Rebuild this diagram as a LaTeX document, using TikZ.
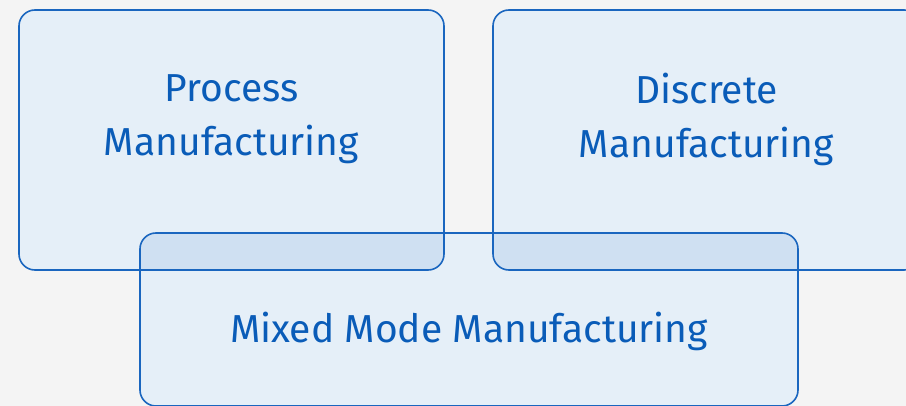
\documentclass[tikz,border=0pt]{standalone}
\usepackage{fontspec}
\setmainfont{Fira Sans}
\usepackage{xcolor}
\usepackage{tikz}
\usetikzlibrary{positioning}

\definecolor{pagebg}{HTML}{F4F4F4}
\definecolor{panelfill}{HTML}{E5EFF8}
\definecolor{panelmix}{HTML}{CFE0F2}
\definecolor{paneledge}{HTML}{1A66BF}
\definecolor{paneltext}{HTML}{0A5CB8}

\begin{document}
\begin{tikzpicture}[x=1pt, y=-1pt,
    panel/.style={rectangle, rounded corners=16pt, fill=panelfill, outer sep=0pt, inner sep=0pt},
    edge/.style={draw=paneledge, line width=1.6pt, rounded corners=16pt},
    caption/.style={text=paneltext, align=center, font=\fontsize{39}{54}\selectfont}]
            % Background
            \fill[pagebg] (0,0) rectangle (906,406);
            \useasboundingbox (0,0) rectangle (906,406);

            % Nodes
            \node[panel, minimum width=425pt, minimum height=260pt] (process) at (231.5,140) {};
            \node[panel, minimum width=427pt, minimum height=260pt] (discrete) at (706.5,140) {};
            \node[panel, minimum width=658pt, minimum height=173pt] (mixed) at (469,319.5) {};

            % Overlaps
            \begin{scope}
                \clip[rounded corners=16pt] (mixed.south west) rectangle (mixed.north east);
                \fill[panelmix, rounded corners=16pt] (process.south west) rectangle (process.north east);
                \fill[panelmix, rounded corners=16pt] (discrete.south west) rectangle (discrete.north east);
            \end{scope}

            % Borders
            \foreach \b in {process, discrete, mixed}
                \draw[edge] (\b.south west) rectangle (\b.north east);

            % Labels
            \node[caption] (processlabel) at (process.center) [yshift=21pt] {Process\\Manufacturing};
            \node[caption] (discretelabel) at (discrete.center) [yshift=21pt] {Discrete\\Manufacturing};
            \node[caption, anchor=base] (mixedlabel) at (469,343) {Mixed Mode Manufacturing};
\end{tikzpicture}
\end{document}
